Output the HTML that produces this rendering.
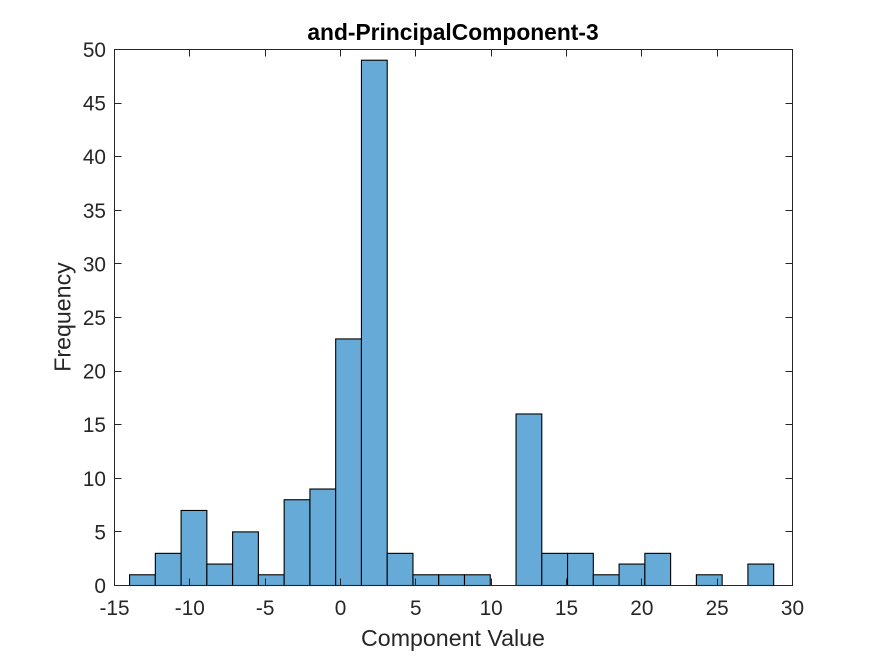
<!DOCTYPE html>
<html>
<head>
<meta charset="utf-8">
<style>
html,body{margin:0;padding:0;background:#fff;width:875px;height:656px;overflow:hidden}
svg{display:block}
text{font-family:"Liberation Sans",Arial,sans-serif;fill:#262626}
</style>
</head>
<body>
<svg id="chart" width="875" height="656" viewBox="0 0 875 656" xmlns="http://www.w3.org/2000/svg"></svg>
<script>
const counts = [1,3,7,2,5,1,8,9,23,49,3,1,1,1,0,16,3,3,1,2,3,0,1,0,2];
const binStart = -14;
const binWidth = 1.71;
const xTicks = [-15,-10,-5,0,5,10,15,20,25,30];
const yTicks = [0,5,10,15,20,25,30,35,40,45,50];
const titleText = 'and-PrincipalComponent-3';
const xLabelText = 'Component Value';
const yLabelText = 'Frequency';

const L = 114.5, R = 792.5, T = 49.5, B = 585.5;
const xMin = -15, xMax = 30, yMin = 0, yMax = 50;
const sx = v => L + (v - xMin) / (xMax - xMin) * (R - L);
const sy = v => B - (v - yMin) / (yMax - yMin) * (B - T);
const svg = document.getElementById('chart');
const NS = 'http://www.w3.org/2000/svg';
function mk(tag, attrs, parent) {
  const el = document.createElementNS(NS, tag);
  for (const k in attrs) el.setAttribute(k, attrs[k]);
  (parent || svg).appendChild(el);
  return el;
}

const bg = mk('rect', {x: L, y: T, width: R - L, height: B - T, fill: '#fff'});



const bars = mk('g', {});


counts.forEach((c, i) => {
  if (c <= 0) return;
  const x0 = sx(binStart + i * binWidth), x1 = sx(binStart + (i + 1) * binWidth);
  const r = mk('rect', {x: x0, y: sy(c), width: x1 - x0, height: sy(0) - sy(c), fill: '#66AAD7', stroke: '#000', 'stroke-width': 1.1}, bars);
  
  
});

const axes = mk('g', {stroke: '#262626', 'stroke-width': 1, fill: 'none'});


mk('rect', {x: L, y: T, width: R - L, height: B - T}, axes);

const xg = mk('g', {});


xTicks.forEach(v => {
  const x = Math.round(sx(v) - 0.5) + 0.5;
  mk('path', {d: `M${x} ${B}V${B - 7}M${x} ${T}V${T + 7}`, stroke: '#262626', 'stroke-width': 1, fill: 'none'}, xg);
  const t = mk('text', {x: sx(v), y: 615, 'text-anchor': 'middle', 'font-size': 20.8}, xg);
  
  
  t.textContent = v;
});

const yg = mk('g', {});


yTicks.forEach(v => {
  const y = Math.round(sy(v) - 0.5) + 0.5;
  mk('path', {d: `M${L} ${y}H${L + 7}M${R} ${y}H${R - 7}`, stroke: '#262626', 'stroke-width': 1, fill: 'none'}, yg);
  const t = mk('text', {x: 106, y: sy(v) + 7.5, 'text-anchor': 'end', 'font-size': 20.8}, yg);
  
  
  t.textContent = v;
});

const title = mk('text', {x: 453, y: 40, 'text-anchor': 'middle', 'font-size': 22.8, 'font-weight': 'bold', style: 'fill:#000'});


title.textContent = titleText;

const xl = mk('text', {x: 453, y: 646, 'text-anchor': 'middle', 'font-size': 23.2});


xl.textContent = xLabelText;

const yl = mk('text', {x: 0, y: 0, 'text-anchor': 'middle', 'font-size': 23.2, transform: 'translate(70.5 317) rotate(-90)'});


yl.textContent = yLabelText;
</script>
</body>
</html>
